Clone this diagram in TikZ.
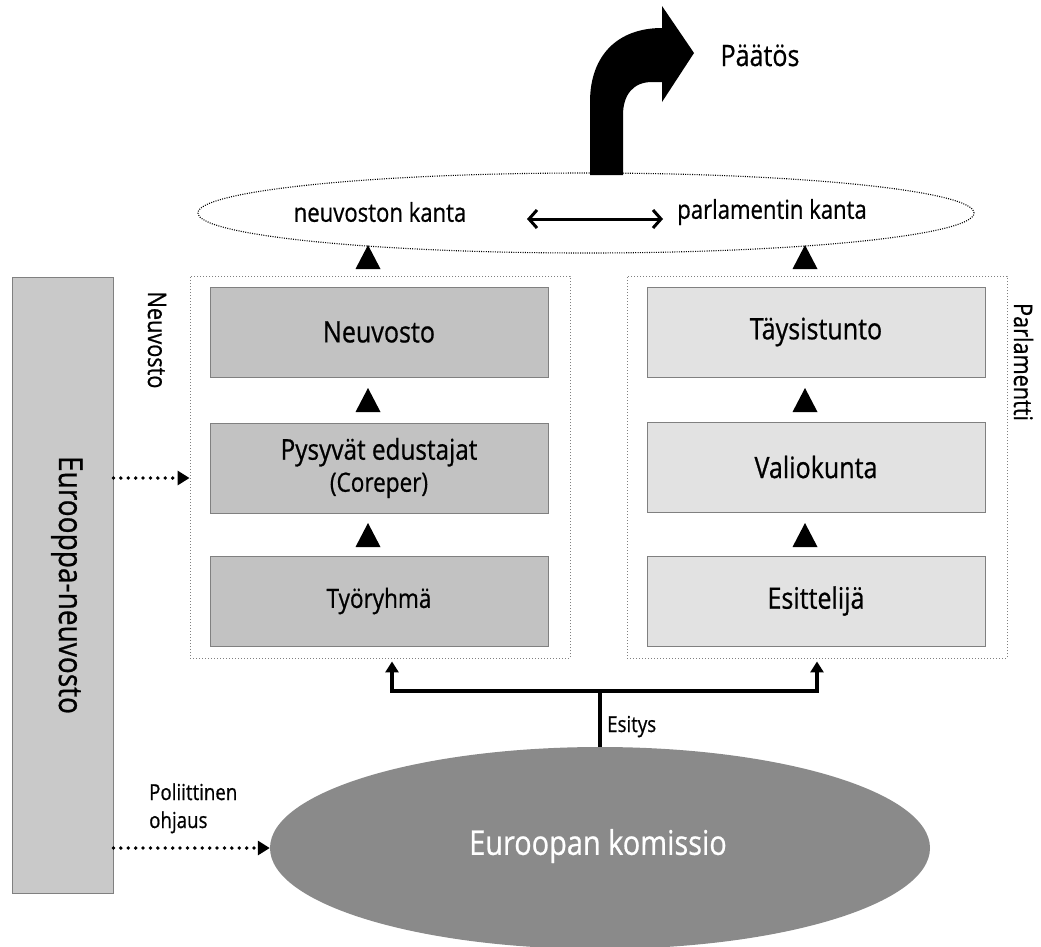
\documentclass[tikz,border=0pt]{standalone}
\usepackage{fontspec}
\setmainfont[FakeStretch=0.85,FakeBold=0.7]{Open Sans}
\usetikzlibrary{arrows.meta,calc,shapes.geometric}
\definecolor{lboxgray}{HTML}{C2C2C2}
\definecolor{rboxgray}{HTML}{E2E2E2}
\definecolor{bargray}{HTML}{C9C9C9}
\definecolor{komgray}{HTML}{8A8A8A}
\definecolor{edgegray}{HTML}{808080}
\newcommand{\fs}[1]{\fontsize{#1}{#1}\selectfont}
\begin{document}
\begin{tikzpicture}[x=1pt,y=-1pt,
  stagebox/.style={draw=edgegray, line width=0.9pt, minimum width=338, minimum height=90, inner sep=0pt, align=center},
  lstage/.style={stagebox, fill=lboxgray},
  rstage/.style={stagebox, fill=rboxgray},
  container/.style={draw=edgegray, line width=0.9pt, dash pattern=on 1pt off 2pt, minimum width=380, minimum height=382, inner sep=0pt},
  tri/.pic={\fill (-12.5,12) -- (12.5,12) -- (0,-12) -- cycle;},
  dotarrow/.style={line width=3.8pt, dash pattern=on 0pt off 7.4pt, line cap=round, -{Triangle[length=12pt,width=14pt,line cap=butt]}},
  feed/.style={line width=3.6pt, -{Triangle[length=11pt,width=13pt]}},
  dbl/.style={line width=3pt, {Straight Barb[length=8pt,width=18pt,line width=3pt]}-{Straight Barb[length=8pt,width=18pt,line width=3pt]}},
]
\useasboundingbox (0,0) rectangle (1041,946);

% Top decision arrow
\fill (590,175) -- (590,102) .. controls (590,55) and (618,28) .. (662,28)
  -- (662,6) -- (694,53) -- (662,102) -- (662,82) -- (652,82)
  .. controls (633,82) and (623,95) .. (623,115) -- (623,175) -- cycle;
\node[anchor=base west, font=\fs{29.5}] (paatos) at (717,66) {Päätös};

% position ellipse
\node[draw=black, line width=1.1pt, dash pattern=on 1pt off 1.3pt, ellipse, minimum width=776, minimum height=80, inner sep=0pt] (pos) at (586,213) {};
\node[font=\fs{26}] (nk) at (380,212) {neuvoston kanta};
\node[font=\fs{26}] (pk) at (772,212) {parlamentin kanta};
\coordinate (da1) at (527,219);
\coordinate (da2) at (663,219);
\draw[dbl] (da1) -- (da2);

% Europe council bar
\node[draw=edgegray, line width=0.9pt, fill=bargray, minimum width=101, minimum height=616, inner sep=0pt] (eur) at (62.5,585) {};
\node[rotate=-90, anchor=base, font=\fs{33}] (eurt) at (59,585) {Eurooppa-neuvosto};

% containers
\node[container] (cl) at (380,467) {};
\node[container] (cr) at (817,467) {};
\node[rotate=-90, anchor=base, font=\fs{25.5}] (neuvl) at (148,340) {Neuvosto};
\node[rotate=-90, anchor=base, font=\fs{25.5}] (parl) at (1014,362) {Parlamentti};

% Council stages
\node[lstage, font=\fs{29.5}] (neu) at (379,332) {Neuvosto};
\node[lstage] (pys) at (379,468) {{\fs{28.6}Pysyvät edustajat}\\[5pt]{\fs{26.5}(Coreper)}};
\node[lstage, font=\fs{26.5}] (tyo) at (379,601) {Työryhmä};

% Parliament stages
\node[rstage, font=\fs{29.5}] (tay) at (816,332) {Täysistunto};
\node[rstage, font=\fs{29.5}] (val) at (816,467) {Valiokunta};
\node[rstage, font=\fs{29.5}] (esi) at (816,601) {Esittelijä};

% triangles
\pic at (368,257) {tri};
\pic at (368,400) {tri};
\pic at (368,535) {tri};
\pic at (805,257) {tri};
\pic at (805,400) {tri};
\pic at (805,535) {tri};

% dotted arrow to council
\draw[dotarrow] (eur.east |- 0,478) -- (cl.west |- 0,478);

% Commission
\node[ellipse, fill=komgray, minimum width=660, minimum height=202, inner sep=0pt] (kom) at (600,848) {};
\node[text=white, font=\fs{34}] (komt) at (598,846) {Euroopan komissio};

% proposal lines
\coordinate (split) at (600,691);
\draw[line width=3.6pt] (kom.north) -- (split);
\draw[feed] (split) -| ($(cl.south)+(12,3)$);
\draw[feed] (split) -| ($(cr.south)+(0,3)$);
\node[anchor=base west, font=\fs{22}, inner sep=0pt] (esitys) at (607,732) {Esitys};

% political guidance
\node[anchor=base west, align=left, font=\fs{22}, inner sep=0pt] (pol) at (149,800) {Poliittinen};
\node[anchor=base west, align=left, font=\fs{22}, inner sep=0pt] (ohj) at (149,828) {ohjaus};
\draw[dotarrow] (eur.east |- 0,848) -- (kom.west);
\end{tikzpicture}
\end{document}
